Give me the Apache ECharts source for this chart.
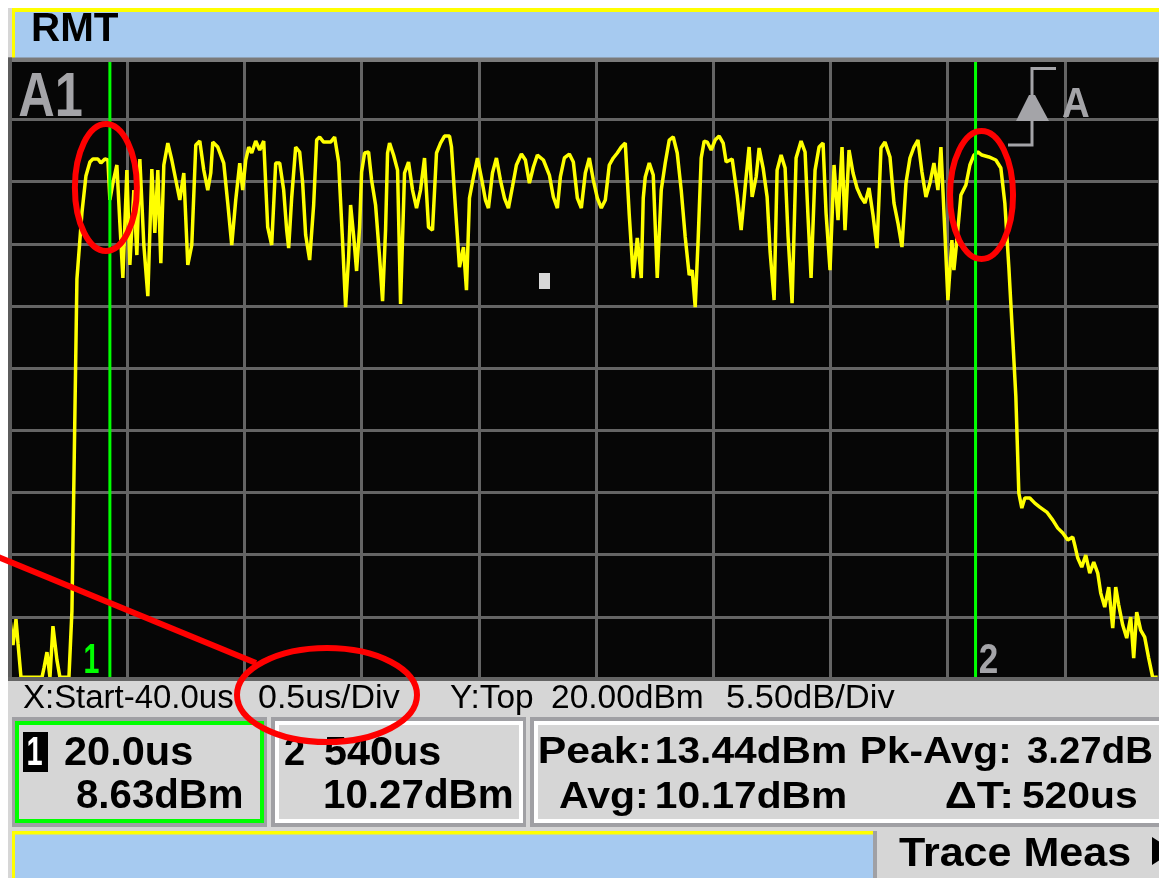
<!DOCTYPE html>
<html><head><meta charset="utf-8">
<script src="https://cdn.jsdelivr.net/npm/echarts@6/dist/echarts.min.js"></script>
<style>html,body{margin:0;padding:0;background:#fff;overflow:hidden}#c{width:1159px;height:878px}</style>
</head><body><div id="c"></div>
<script>
// ---------------- DATA ----------------
const X_START_US = -40;        // X:Start
const X_END_VISIBLE_US = 650.2; // right edge of the cropped screen
const X_DIV_US = 70.4;         // time per division actually shown by the grid (markers 20us / 540us)
const Y_TOP_DBM = 20;          // Y:Top
const Y_DIV_DB = 5.5;          // dB/Div
const N_DIV = 10;

const traceTime = [
  -40, -38.2, -36.4, -35.2, -33.4, -31, -28, -24.4, -20.8, -19.6,
  -17.8, -16, -14.2, -11.8, -10, -7.6, -4.6, -2.8, 0.2, 3.2,
  5.6, 8, 9.8, 12.8, 14.6, 17, 18.8, 20, 21.8, 24.2,
  26, 27.8, 30.2, 32, 34.4, 36.2, 38, 40.4, 42.8, 45.2,
  47, 48.8, 50.6, 52.4, 54.8, 57.2, 59.6, 62, 64.4, 66.8,
  69.2, 71.6, 74, 76.4, 78.8, 80.6, 81.8, 84.8, 88.4, 90.8,
  93.2, 95.6, 98, 99.8, 101.6, 103.4, 105.2, 107.6, 110, 112.4,
  114.8, 117.2, 119.6, 122, 124.4, 126.2, 127.4, 129.2, 131.6, 134,
  135.8, 137.6, 140, 142.4, 144.2, 146, 148.4, 152.6, 155, 157.4,
  159.8, 161.6, 163.4, 164.6, 166.4, 168.2, 170, 171.2, 173, 175.4,
  177.2, 179.6, 182, 183.8, 185.6, 186.8, 188, 190.4, 192.8, 194.6,
  197, 199.4, 201.8, 204.2, 206.6, 209, 211.4, 213.8, 216.2, 218.6,
  221, 224, 225.2, 227.6, 230, 232.4, 234.2, 236, 238.4, 240.8,
  243.2, 245.6, 247.4, 249.8, 252.2, 254.6, 257, 259.4, 261.8, 264.2,
  267.2, 269.6, 272, 274.4, 276.8, 280.4, 284, 286.4, 288.8, 290.6,
  293, 296, 298.4, 300.8, 303.2, 305.6, 308, 310.4, 312.8, 315.2,
  317.6, 320, 322.4, 324.8, 327.2, 329.6, 332, 334.4, 336.8, 339.2,
  340.4, 341.6, 344, 346.4, 348.8, 351.2, 353.6, 356, 358.4, 360.8,
  363.2, 365.6, 368, 369.8, 371.6, 373.4, 375.2, 377, 378.8, 381.2,
  383.6, 386, 388.4, 390.2, 393.8, 396.8, 399.2, 401.6, 404, 405.8,
  408.2, 410, 412.4, 414.8, 416.6, 419, 420.8, 423.2, 425.6, 427.4,
  429.8, 432.2, 435.2, 437.6, 439.4, 441.2, 443.6, 446, 448.4, 450.2,
  452.6, 455, 457.4, 459.8, 461.6, 464, 466.4, 468.8, 471.2, 473.6,
  476, 478.4, 480.8, 483.2, 485.6, 488.6, 491, 493.4, 495.8, 498.2,
  500.6, 503, 505.4, 507.8, 510.2, 512.6, 515, 517.4, 519.2, 521.6,
  523.4, 525.8, 527, 528.8, 531.2, 534.2, 536.6, 539, 541.4, 543.8,
  548, 552.2, 555.2, 557.6, 560, 562.4, 564.2, 566, 567.8, 569.6,
  572.6, 575.6, 578.6, 582.8, 586.4, 589.4, 592.4, 595.4, 598.4, 599.6,
  601.4, 603.8, 606.2, 608.6, 611, 613.4, 615.2, 617.6, 620, 622.4,
  624.2, 626, 628.4, 630.8, 633.2, 635, 636.8, 639.2, 641.6, 644,
  646.4, 649.4
];
const traceDbm = [
  -29.70, -32.00, -29.70, -31.83, -34.85, -34.85, -34.85, -34.85, -34.85, -34.04,
  -32.62, -34.85, -30.32, -33.33, -34.85, -34.85, -34.85, -28.99, 0.39, 6.23,
  9.50, 10.74, 11.01, 11.01, 10.65, 11.01, 10.92, 7.38, 8.88, 10.48,
  5.34, 0.48, 10.03, 1.63, 8.26, 2.51, 11.01, 3.40, -1.12, 10.12,
  4.46, 10.03, 1.80, 10.48, 12.42, 10.92, 9.15, 7.38, 9.77, 1.63,
  3.40, 12.25, 12.60, 10.03, 8.26, 9.77, 12.51, 12.07, 10.65, 7.11,
  3.40, 7.38, 10.65, 8.26, 10.92, 12.07, 11.54, 12.60, 11.80, 12.60,
  4.99, 3.40, 10.65, 10.65, 8.26, 4.72, 3.13, 7.56, 12.07, 11.63,
  8.88, 4.28, 2.07, 6.94, 12.69, 12.96, 12.51, 12.51, 12.96, 10.74,
  3.66, -2.09, 2.34, 6.94, 4.28, 1.10, 4.99, 9.86, 11.54, 11.63,
  9.15, 6.94, 2.34, -1.56, 4.72, 11.54, 12.42, 11.36, 10.03, -1.82,
  9.77, 10.74, 8.26, 6.67, 8.26, 11.10, 4.99, 4.72, 11.54, 12.42,
  13.04, 13.04, 12.07, 6.67, 1.45, 3.22, -0.59, 7.56, 9.42, 11.10,
  9.33, 7.38, 6.67, 9.77, 11.10, 9.15, 7.56, 6.67, 8.53, 10.48,
  11.45, 10.92, 8.88, 10.30, 11.36, 10.92, 9.59, 7.65, 6.67, 9.42,
  11.10, 11.45, 10.74, 7.56, 6.67, 9.77, 11.10, 9.15, 7.56, 6.67,
  7.38, 10.48, 11.10, 11.54, 12.07, 12.42, 6.05, 0.48, 4.02, 0.48,
  7.56, 9.42, 10.65, 9.59, 0.48, 8.26, 10.65, 12.69, 12.96, 11.54,
  8.26, 4.11, 0.74, 1.18, -2.09, 4.02, 11.10, 12.60, 12.51, 11.80,
  12.69, 13.04, 12.42, 10.74, 11.01, 7.82, 4.72, 8.53, 12.07, 7.65,
  9.42, 11.98, 10.21, 7.65, 2.78, -1.47, 10.03, 11.36, 10.21, 4.11,
  -1.74, 11.10, 12.60, 11.63, 5.79, 0.48, 10.03, 12.07, 12.42, 6.23,
  1.18, 10.48, 5.61, 12.07, 4.72, 11.80, 9.77, 8.44, 7.65, 7.11,
  8.44, 6.05, 3.13, 11.98, 12.51, 11.19, 7.11, 5.34, 3.22, 8.88,
  11.10, 12.07, 12.69, 9.86, 7.65, 8.88, 10.65, 8.26, 12.07, 4.46,
  -1.47, 3.84, 1.18, 3.84, 7.82, 8.71, 10.48, 11.36, 11.63, 11.36,
  11.19, 10.92, 10.21, 7.11, 1.45, -5.01, -9.97, -18.55, -19.88, -18.99,
  -18.99, -19.44, -19.79, -20.23, -20.94, -21.65, -22.09, -22.71, -22.44, -23.15,
  -24.30, -25.10, -24.04, -25.63, -24.66, -25.63, -27.40, -28.64, -26.87, -30.50,
  -26.87, -28.46, -30.23, -31.38, -29.52, -33.15, -29.08, -30.68, -31.29, -33.15,
  -34.85, -34.85
];

const MARKER_IDS = ['1', '2'];
const MARKER_TIMES_US = [20, 540];
const MARKER_LEVELS_DBM = [8.63, 10.27];
const PEAK_DBM = 13.44;
const PK_AVG_DB = 3.27;
const AVG_DBM = 10.17;
const DELTA_T_US = 520;
const STATUS_TEXT = ['X:Start-40.0us', '0.5us/Div', 'Y:Top', '20.00dBm', '5.50dB/Div'];
const TITLE_TEXT = 'RMT';
const WINDOW_TEXT = 'A1';
const TRIGGER_TEXT = 'A';
const SOFTKEY_TEXT = 'Trace Meas';

// ---------------- CHART ----------------
const Y_BOTTOM = Y_TOP_DBM - N_DIV * Y_DIV_DB;
const chart = echarts.init(document.getElementById('c'), null, {renderer: 'canvas', width: 1159, height: 878});

const gridLine = {show: true, lineStyle: {color: '#646464', width: 3}};
const hiddenAxis = {axisLine: {show: false}, axisTick: {show: false}, axisLabel: {show: false}};

const markerSeries = MARKER_TIMES_US.map(t => ({
  type: 'line', z: 4, silent: true, symbol: 'none', showSymbol: false,
  lineStyle: {color: '#00ff00', width: 3},
  data: [[t - X_START_US, 0], [t - X_START_US, N_DIV * Y_DIV_DB]]
}));

chart.setOption({
  animation: false,
  backgroundColor: '#ffffff',
  grid: {left: 10, top: 57.4, width: 1149, height: 621.6, show: true, backgroundColor: '#060606',
         borderWidth: 0, containLabel: false, outerBoundsMode: 'none'},
  xAxis: Object.assign({type: 'value', min: 0, max: X_END_VISIBLE_US - X_START_US, interval: X_DIV_US, splitLine: gridLine}, hiddenAxis),
  yAxis: Object.assign({type: 'value', min: 0, max: N_DIV * Y_DIV_DB, interval: Y_DIV_DB, splitLine: gridLine}, hiddenAxis),
  series: [{
    type: 'line', z: 3, silent: true, symbol: 'none', showSymbol: false,
    lineStyle: {color: '#ffff00', width: 3.5, join: 'bevel'},
    data: traceTime.map((t, i) => [t - X_START_US, traceDbm[i] - Y_BOTTOM])
  }].concat(markerSeries)
});

// ---------------- DECORATION / TEXT ----------------
const FAMILY = '"Liberation Sans", "DejaVu Sans", Arial, sans-serif';
const mctx = document.createElement('canvas').getContext('2d');
function fontStr(w, fs) { return w + ' ' + fs.toFixed(2) + 'px ' + FAMILY; }
function txt(str, x0, x1, capTop, capBot, fill, weight, z) {
  weight = weight || 'bold';
  mctx.textBaseline = 'middle';
  mctx.font = fontStr(weight, 100);
  const h100 = mctx.measureText('H');
  const capRatio = (h100.actualBoundingBoxAscent + h100.actualBoundingBoxDescent) / 100;
  const fs = (capBot - capTop) / capRatio;
  mctx.font = fontStr(weight, fs);
  const h = mctx.measureText('H');
  const m = mctx.measureText(str);
  const ink = m.actualBoundingBoxLeft + m.actualBoundingBoxRight;
  const sx = (x1 - x0) / ink;
  return {
    type: 'text', z: z || 30, silent: true,
    x: x0 + m.actualBoundingBoxLeft * sx, y: capTop + h.actualBoundingBoxAscent,
    scaleX: sx,
    style: {text: str, font: fontStr(weight, fs), fill: fill,
      align: 'left', textAlign: 'left', verticalAlign: 'middle', textVerticalAlign: 'middle'}
  };
}
function rect(x, y, w, h, fill, z) {
  return {type: 'rect', z: z || 10, silent: true, shape: {x, y, width: w, height: h}, style: {fill}};
}

const px1 = chart.convertToPixel({gridIndex: 0}, [MARKER_TIMES_US[0] - X_START_US, 0])[0];
const px2 = chart.convertToPixel({gridIndex: 0}, [MARKER_TIMES_US[1] - X_START_US, 0])[0];

const GRAY_TXT = '#a4a4a8';
const PANEL = '#d6d6d6';
const FRAME = '#a0a0a4';
const BLUE = '#a6caf0';
const G = [];
// header
G.push(rect(8, 8, 4, 50, PANEL));
G.push(rect(12, 8, 1147, 50, '#ffff00'));
G.push(rect(15, 12, 1144, 46, BLUE));
G.push(rect(8, 57.5, 1151, 4.5, '#7a7a7a'));
G.push(rect(8, 57.5, 4, 624, '#5c5c5c'));
G.push(txt(TITLE_TEXT, 33, 118, 13, 41, '#000000', 'bold'));
// plot decorations
G.push(txt(WINDOW_TEXT, 19, 82, 73, 117, GRAY_TXT, 'bold', 12));
G.push({type: 'polyline', z: 12, silent: true, shape: {points: [[1056, 68.5], [1032, 68.5], [1032, 145], [1008, 145]]}, style: {stroke: GRAY_TXT, lineWidth: 3, fill: null}});
G.push({type: 'polygon', z: 12, silent: true, shape: {points: [[1029, 95], [1035, 95], [1049, 121], [1016, 121]]}, style: {fill: GRAY_TXT}});
G.push(txt(TRIGGER_TEXT, 1063, 1089, 88, 118, GRAY_TXT, 'bold', 12));
G.push(rect(539, 273, 11, 16, '#d8d8d8', 12));
G.push(txt(MARKER_IDS[0], px1 - 25, px1 - 11, 644, 674, '#00ff00', 'bold', 12));
G.push(txt(MARKER_IDS[1], px2 + 4, px2 + 22, 644, 674, GRAY_TXT, 'bold', 12));
// bottom panels
G.push(rect(8, 677, 1151, 4, '#646464'));
G.push(rect(8, 681, 1151, 197, PANEL));
STATUS_TEXT.forEach((s, i) => {
  const pos = [[23, 233], [259, 400], [450, 533], [552, 702], [727, 895]][i];
  G.push(txt(s, pos[0], pos[1], 685, 708, '#000000', 'normal'));
});
// box 1
G.push(rect(12, 717, 255, 110, FRAME));
G.push(rect(15, 721, 249, 102, '#00ff00'));
G.push(rect(19, 725, 241, 94, PANEL));
G.push(rect(23, 732, 25, 40, '#000000', 20));
G.push(txt(MARKER_IDS[0], 28, 42, 737, 766, '#ffffff', 'bold'));
G.push(txt(MARKER_TIMES_US[0].toFixed(1) + 'us', 65, 192, 737, 765, '#000000', 'bold'));
G.push(txt(MARKER_LEVELS_DBM[0].toFixed(2) + 'dBm', 77, 242, 780, 808, '#000000', 'bold'));
// box 2
G.push(rect(271, 717, 255, 110, FRAME));
G.push(rect(275, 721, 248, 102, '#ffffff'));
G.push(rect(279, 725, 240, 94, PANEL));
G.push(txt(MARKER_IDS[1], 285, 304, 737, 765, '#000000', 'bold'));
G.push(txt(MARKER_TIMES_US[1] + 'us', 325, 440, 737, 765, '#000000', 'bold'));
G.push(txt(MARKER_LEVELS_DBM[1].toFixed(2) + 'dBm', 325, 512, 780, 808, '#000000', 'bold'));
// box 3
G.push(rect(530, 717, 640, 110, FRAME));
G.push(rect(534, 721, 640, 102, '#ffffff'));
G.push(rect(538, 725, 640, 94, PANEL));
G.push(txt('Peak:', 540, 648, 737, 763, '#000000', 'bold'));
G.push(txt(PEAK_DBM.toFixed(2) + 'dBm', 657, 845, 737, 763, '#000000', 'bold'));
G.push(txt('Pk-Avg:', 862, 1008, 737, 763, '#000000', 'bold'));
G.push(txt(PK_AVG_DB.toFixed(2) + 'dB', 1027, 1152, 737, 763, '#000000', 'bold'));
G.push(txt('Avg:', 559, 645, 782, 808, '#000000', 'bold'));
G.push(txt(AVG_DBM.toFixed(2) + 'dBm', 657, 845, 782, 808, '#000000', 'bold'));
G.push(txt('\u0394T:', 946, 1010, 782, 808, '#000000', 'bold'));
G.push(txt(DELTA_T_US + 'us', 1023, 1137, 782, 808, '#000000', 'bold'));
// softkey row
G.push(rect(12, 831, 861, 47, '#ffff00'));
G.push(rect(15, 834.5, 858, 44, BLUE));
G.push(rect(873, 831, 4, 47, FRAME));
G.push(txt(SOFTKEY_TEXT, 899, 1130, 838, 867, '#000000', 'bold'));
G.push({type: 'polygon', z: 30, silent: true, shape: {points: [[1152, 837], [1174, 851], [1152, 865]]}, style: {fill: '#000000'}});
// red annotations
const RED = {fill: 'none', stroke: '#ff0000', lineWidth: 6};
G.push({type: 'ellipse', z: 60, silent: true, shape: {cx: px1 - 4, cy: 187.5, rx: 31, ry: 63.5}, style: RED});
G.push({type: 'ellipse', z: 60, silent: true, shape: {cx: px2 + 6, cy: 195, rx: 31.5, ry: 64}, style: RED});
G.push({type: 'ellipse', z: 60, silent: true, shape: {cx: 327, cy: 695, rx: 90, ry: 47}, style: RED});
G.push({type: 'line', z: 60, silent: true, shape: {x1: -2, y1: 557, x2: 256, y2: 663}, style: {stroke: '#ff0000', lineWidth: 6}});

chart.setOption({graphic: {elements: G}});
</script>
</body></html>
